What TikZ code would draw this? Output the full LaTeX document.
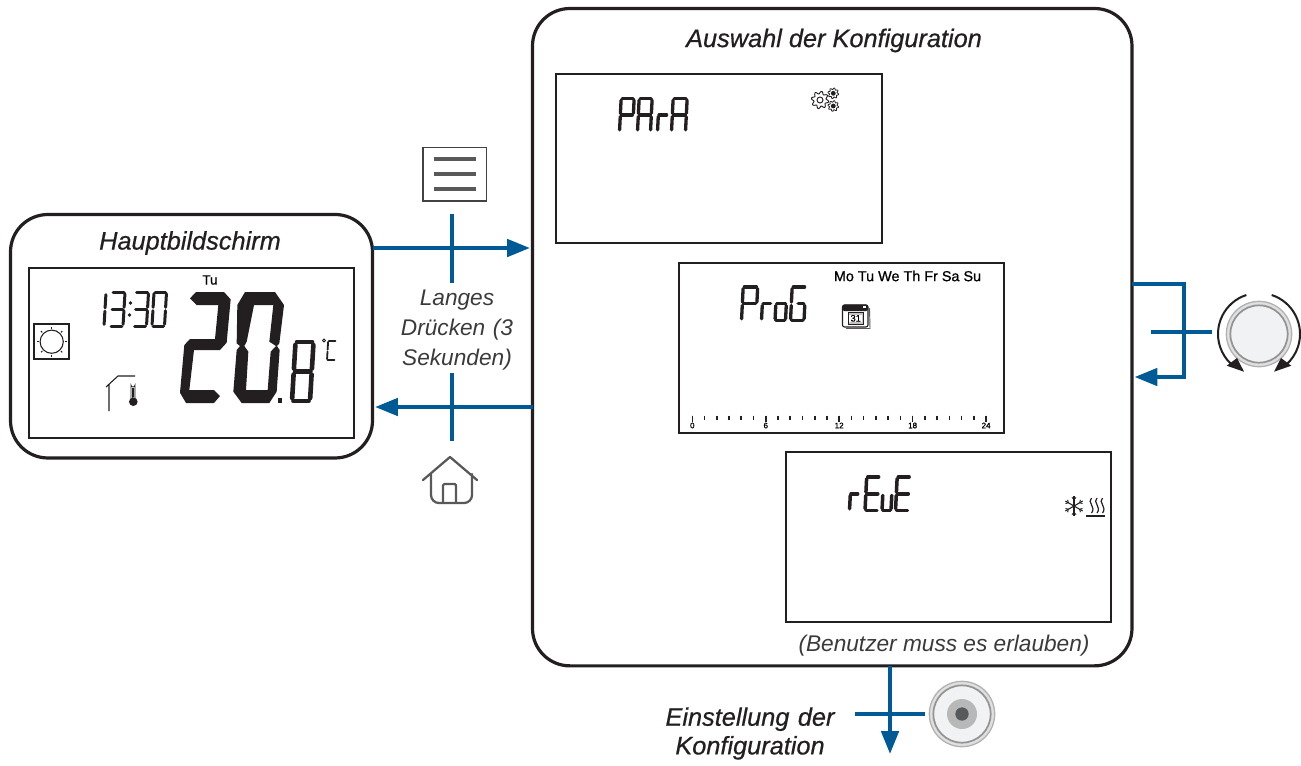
\documentclass[tikz,border=0pt]{standalone}
\usepackage{fontspec}
\usetikzlibrary{arrows.meta,calc}
\setmainfont{Liberation Sans}
\newfontfamily\medifont[FakeBold=0.6]{Liberation Sans Italic}
\newfontfamily\medfont[FakeBold=0.8]{Liberation Sans}
\newfontfamily\regifont{Liberation Sans Italic}
\definecolor{blu}{HTML}{005A96}
\definecolor{ink}{HTML}{231F20}
\definecolor{ico}{HTML}{58595B}
\definecolor{txt}{HTML}{3A3A3C}
\definecolor{knob}{HTML}{F1F2F4}
\newcommand\fsz[1]{\fontsize{#1}{#1}\selectfont}
\def\sga{(.08,0)--(.92,0)}
\def\sgb{(1,.05)--(1,.45)}
\def\sgc{(1,.55)--(1,.95)}
\def\sgd{(.08,1)--(.92,1)}
\def\sge{(0,.55)--(0,.95)}
\def\sgf{(0,.05)--(0,.45)}
\def\sgg{(.08,.5)--(.92,.5)}
\def\sgh{(.5,.5)--(.92,.5)}
\newcommand\segd[7]{%
  \begin{scope}[shift={(#1+#6*#4,#2)},x={(#3*.75pt,0pt)},y={(-#6*#4*.75pt,-#4*.75pt)}]
  \foreach \s in {#7}{%
    \expandafter\let\expandafter\segp\csname sg\s\endcsname
    \draw[ink,line width=#5*.75pt,line cap=round] \segp;}
  \end{scope}}
\tikzset{
  panel/.style={draw=ink,line width=2.4pt,rounded corners=28pt,fill=white,inner sep=0pt,outer sep=0pt,anchor=north west},
  lcd/.style={draw=ink,line width=1.5pt,fill=white,inner sep=0pt,outer sep=0pt,anchor=north west},
  flow/.style={blu,line width=2.7pt,shorten >=2pt,-{Triangle[length=17pt,width=13pt]}},
  press/.style={blu,line width=2.7pt},
  icon/.style={ico,line width=1.7pt,line cap=round,line join=round},
  lab/.style={inner sep=0pt,align=center,text=txt},
  head/.style={inner sep=0pt,align=center,text=ink,font=\medifont\fsz{19}},
  ringout/.style={circle,draw=black!30,line width=1pt,fill=black!12,minimum size=49pt,inner sep=0pt,outer sep=0pt},
  ringin/.style={circle,draw=black!42,line width=1.3pt,fill=knob,minimum size=43pt,inner sep=0pt,outer sep=0pt},
}
\begin{document}
\begin{tikzpicture}[x=.75pt,y=-.75pt]
\useasboundingbox (0,0) rectangle (1301,765);
% panels
\node[panel,minimum width=271.5pt,minimum height=182.6pt] (main) at (10.5,214.5) {};
\node[panel,minimum width=449.6pt,minimum height=493pt] (sel) at (532.5,8.5) {};
\node[lcd,minimum width=244pt,minimum height=127.5pt] (s0) at (28.5,268) {};
\node[lcd,minimum width=244.5pt,minimum height=126.8pt] (s1) at (556,74) {};
\node[lcd,minimum width=243.8pt,minimum height=127.5pt] (s2) at (679,263) {};
\node[lcd,minimum width=243.8pt,minimum height=127.5pt] (s3) at (786,452) {};
% titles
\node[head] (t0) at (190,243) {Hauptbildschirm};
\node[head] (t1) at (834,40.5) {Auswahl der Konfiguration};
\node[lab,font=\regifont\fsz{17},text width=110pt] (t2) at (457,330) {Langes\\[5.2pt]Drücken (3\\[5.2pt]Sekunden)};
\node[lab,font=\regifont\fsz{17}] (t3) at (944,645.5) {(Benutzer muss es erlauben)};
\node[head,text width=140pt] (t4) at (750,733.5) {Einstellung der\\[2.5pt]Konfiguration};
% main screen
\node[inner sep=0pt,font=\medfont\fsz{10}] (tu) at (210,280) {Tu};
\segd{104}{293}{0}{33}{3}{.06}{b,c}
\segd{110}{292}{13}{34}{3}{.06}{a,b,c,d,g}
\fill[ink] (130.5,303) circle (1.8) (129.5,315) circle (1.8);
\segd{133.5}{292}{13}{34}{3}{.06}{a,b,c,d,g}
\segd{152}{292}{12.5}{34}{3}{.06}{a,b,c,d,e,f}
\begin{scope}[shift={(0,210)},x=.25pt,y=-.25pt]
\fill[ink] (570,265)--(588,246)--(672,246)--(692,268)--(680,398)--(660,420)--(582,420)--(568,540)--(642,540)--(660,558)--(642,579)--(558,579)--(540,548)--(553,405)--(570,387)--(645,387)--(655,285)--(590,285)--cycle;
\fill[ink,even odd rule] (735,246)--(825,246)--(852,285)--(838,400)--(831,408)--(839,420)--(830,545)--(808,579)--(725,579)--(700,545)--(710,420)--(720,408)--(710,400)--(712,285)--cycle
 (762,285)--(820,285)--(808,395)--(828,408)--(812,425)--(803,540)--(738,540)--(745,425)--(733,408)--(740,395)--cycle;
\fill[ink] (835,563) rectangle (846,579);
\end{scope}
\segd{292}{342}{18}{59}{4.6}{.06}{a,b,c,d,e,f,g}
\segd{327}{341}{8}{19}{1.8}{.06}{a,f,e,d}
\draw[ink,line width=.7pt] (324,340.5) circle (1.5);
% sun
\draw[ink,line width=1.2pt,fill=white] (34,324) rectangle (69,359);
\draw[ink,line width=.8pt] (51.7,341.7) circle (11.6);
\foreach \a in {0,45,...,315}
  \draw[ink,line width=.8pt] ($(51.7,341.7)+(\a:13.2)$) -- ($(51.7,341.7)+(\a:15)$);
% house + thermometer
\draw[ink,line width=.8pt] (109,411) -- (109,384) (106,387) -- (118,376) -- (135,376);
\draw[ink,line width=.6pt] (131,398) -- (131,385) arc (180:0:2) -- (135,398);
\fill[ink] (132,388) rectangle (134,398) (133.3,401.7) circle (4.3);
% PArA
\segd{619.5}{98.5}{13}{33}{3.3}{.05}{a,b,e,f,g}
\segd{637.5}{98.5}{13}{33}{3.3}{.05}{a,b,c,e,f,g}
\segd{657.5}{98.5}{9}{33}{3.3}{.05}{e,g}
\segd{671.5}{98.5}{14}{33}{3.3}{.05}{a,b,c,e,f,g}
% gears
\draw[ink,line width=.7pt,fill=white] plot[domain=0:360,samples=145,smooth] ({820+(7.4+1.3*sin(8*\x))*cos(\x)},{100+(7.4+1.3*sin(8*\x))*sin(\x)}) -- cycle;
\draw[ink,line width=.7pt] (820,100) circle (3);
\foreach \cy in {93.3,106}{
  \draw[ink,line width=.6pt,fill=white] plot[domain=0:360,samples=121,smooth] ({833.3+(4.6+.8*sin(8*\x))*cos(\x)},{\cy+(4.6+.8*sin(8*\x))*sin(\x)}) -- cycle;
  \fill[ink] (833.3,\cy) circle (2.4);}
% ProG
\node[inner sep=0pt,font=\medfont\fsz{10.8},anchor=center] (days) at (907.5,276) {Mo Tu We Th Fr Sa Su};
\segd{741.5}{287}{14.5}{33.5}{3.3}{.05}{a,b,e,f,g}
\segd{761.5}{287}{9}{33.5}{3.3}{.05}{e,g}
\segd{775}{287}{10.5}{33.5}{3.3}{.05}{c,d,e,g}
\segd{790.5}{287}{13.5}{33.5}{3.3}{.05}{a,c,d,e,f,h}
% calendar
\draw[ico,line width=.7pt] (869.5,308) -- (870,328.5) -- (846,328.5);
\draw[ink,line width=.8pt,fill=white,rounded corners=1.5pt] (842.5,305) rectangle (868,327);
\fill[ink,rounded corners=1.5pt] (842.5,304.5) rectangle (868,311);
\fill[white] (863,305.5) rectangle (865.5,308);
\draw[ink,line width=.5pt,fill=gray!45] (848.5,312.5) rectangle (863,324);
\node[inner sep=0pt,font=\medfont\fsz{7},fill=white,inner xsep=.8pt] (cal) at (855.7,318.3) {31};
% ticks
\foreach \i in {0,...,24}
  \draw[ink,line width=1.2pt] ({692.3+12.24*\i},415.5) -- ({692.3+12.24*\i},420);
\foreach \i/\l in {0/0,6/6,12/12,18/18,24/24}{
  \draw[ink,line width=1.2pt] ({692.3+12.24*\i},415.5) -- ({692.3+12.24*\i},421.5);
  \node[inner sep=0pt,font=\medfont\fsz{6}] (tick\i) at ({692.3+12.24*\i},425.5) {\l};}
% rEvE
\segd{849.5}{477}{8}{33.5}{3.5}{.05}{e,g}
\segd{865}{477}{13}{33.5}{3.5}{.05}{a,d,e,f,g}
\segd{882}{477}{9}{33.5}{3.5}{.05}{c,d,e}
\segd{895.5}{477}{13}{33.5}{3.5}{.05}{a,d,e,f,g}
% snowflake + heat
\foreach \a in {0,60,...,300}{
  \draw[ink,line width=.8pt] (1074,506) -- ++(\a+90:10);
  \draw[ink,line width=.7pt] ($(1074,506)+(\a+90:6.5)$) -- ++(\a+45:3) ($(1074,506)+(\a+90:6.5)$) -- ++(\a+135:3);}
\foreach \hx in {1091.5,1097,1102.5}
  \draw[ink,line width=.9pt] (\hx,498) .. controls (\hx-5,502) and (\hx+5,507) .. (\hx,513);
\draw[ink,line width=1pt] (1086,516) -- (1105,516);
% icon menu
\node[draw=ink!85,line width=1.1pt,fill=white,minimum width=47.5pt,minimum height=40pt,inner sep=0pt,outer sep=0pt,anchor=north west] (menu) at (423,147.5) {};
\foreach \ly in {159,174,189}
  \draw[draw=ico,line width=2.6pt] (433.5,\ly) -- (476,\ly);
% home icon
\coordinate (homeN) at (450,457);
\draw[icon] (423,480) -- (homeN) -- (477,480);
\draw[icon,rounded corners=6pt] (431,474) -- (431,503) -- (472,503) -- (472,474);
\draw[icon,rounded corners=1pt] (443,503) -- (443,484) -- (456,484) -- (456,503);
% knobs
\node[ringout] (dial) at (1259,334) {};
\node[ringin] (dialin) at (dial) {};
\node[ringout] (push) at (962,714) {};
\node[ringin] (pushin) at (push) {};
\node[circle,fill=black!28,minimum size=22.5pt,inner sep=0pt] (pushm) at (push) {};
\node[circle,fill=ico,minimum size=10pt,inner sep=0pt] (pushc) at (push) {};
\draw[ink,line width=1.5pt] ($(dial)+(-108:41)$) arc[start angle=-108,end angle=-228,radius=41];
\draw[ink,line width=1.5pt] ($(dial)+(-72:41)$) arc[start angle=-72,end angle=48,radius=41];
\fill[ink] (1244,371.7) -- (1226.7,365.7) -- (1237,358) -- cycle;
\fill[ink] (1274,371.7) -- (1291.3,365.7) -- (1281,358) -- cycle;
% connectors
\coordinate (y1) at (0,248);
\coordinate (y2) at (0,407);
\coordinate (y3) at (0,284);
\coordinate (y4) at (0,377);
\coordinate (x5) at (1184,0);
\coordinate (x6) at (890,0);
\coordinate (y7) at (0,756.5);
\coordinate (pt1) at (452,214);
\coordinate (pt2) at (452,283);
\coordinate (pt3) at (452,373);
\coordinate (pt4) at (452,441);
\coordinate (pt5) at (1151,332);
\coordinate (pt5e) at (1212,332);
\coordinate (pt6) at (855,714);
\coordinate (pt6e) at (925,714);
\draw[flow] (main.east |- y1) -- (sel.west |- y1);
\draw[flow] (sel.west |- y2) -- (main.east |- y2);
\draw[press] (pt1) -- (pt2);
\draw[press] (pt3) -- (pt4);
\draw[flow] (sel.east |- y3) -- (x5 |- y3) -- (x5 |- y4) -- (sel.east |- y4);
\draw[press] (pt5) -- (pt5e);
\draw[flow] (sel.south -| x6) -- (x6 |- y7);
\draw[press] (pt6) -- (pt6e);
\end{tikzpicture}
\end{document}
